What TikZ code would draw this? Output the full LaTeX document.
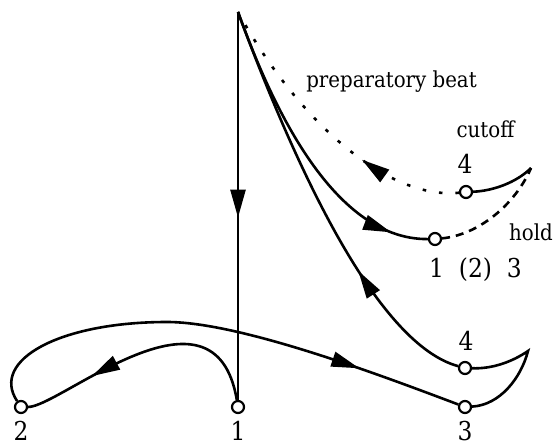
\documentclass[tikz,border=0pt]{standalone}
\usepackage{fontspec}
\setmainfont{DejaVu Serif Condensed}
\usetikzlibrary{arrows.meta, decorations.markings}

\begin{document}
\begin{tikzpicture}[
    x=1pt, y=-1pt,
    beat/.style={
        draw,
        circle,
        fill=white,
        line width=2.2pt,
        minimum size=12pt,
        inner sep=0pt
    },
    stroke/.style={
        line width=2.6pt
    },
    midarrow/.style={
        postaction={decorate},
        decoration={markings,
            mark=at position #1 with {\arrow{Triangle[length=28pt, width=15pt]}}}
    },
    hold/.style={
        stroke,
        dash pattern=on 8pt off 6pt
    },
    prep/.style={
        stroke,
        dash pattern=on 3.5pt off 13pt
    },
    numlabel/.style={
        anchor=base,
        inner sep=1pt,
        font=\fontsize{26}{30}\selectfont
    },
    textlabel/.style={
        anchor=base,
        inner sep=1pt,
        font=\fontsize{22}{26}\selectfont
    }
]
\useasboundingbox (0,0) rectangle (557,446);

% Points of the pattern
\coordinate (top) at (238, 12);
\coordinate (looptop) at (167, 322);
\coordinate (cusplow) at (528, 351);
\coordinate (cusphigh) at (531, 168);

\node[beat] (b1) at (238, 407) {};
\node[beat] (b2) at (21, 407) {};
\node[beat] (b3) at (465, 407) {};
\node[beat] (b4) at (465, 368) {};
\node[beat] (m1) at (435, 239) {};
\node[beat] (m4) at (466, 192) {};

% Main beat pattern
\draw[stroke, midarrow=0.53] (top) -- (b1);
\draw[stroke, midarrow=0.72] (b1) .. controls (215, 270) and (60, 407) .. (b2);
\draw[stroke, midarrow=0.79] (b2) .. controls (-10, 360) and (60, 322) .. (looptop)
    .. controls (240, 322) and (380, 375) .. (b3);
\draw[stroke] (b3) .. controls (500, 405) and (521, 378) .. (cusplow)
    .. controls (512, 362) and (492, 369) .. (b4);
\draw[stroke, midarrow=0.33] (b4) .. controls (380, 345) and (300, 180) .. (top);

% Hold and cutoff
\draw[stroke, midarrow=0.88] (top) .. controls (268, 95) and (330, 240) .. (m1);
\draw[hold] (m1) .. controls (478, 235) and (515, 205) .. (cusphigh);
\draw[stroke] (m4) .. controls (492, 191) and (516, 183) .. (cusphigh);
\draw[prep, midarrow=0.35] (m4) .. controls (390, 200) and (300, 125) .. (top);

% Labels
\node[numlabel] (lbl2) at (21, 440) {2};
\node[numlabel] (lbl1) at (238, 440) {1};
\node[numlabel] (lbl3) at (465, 440) {3};
\node[numlabel] (lbl4) at (466, 350.7) {4};
\node[numlabel] (lblhold) at (475.5, 277.7) {1~~(2)~~3};
\node[numlabel] (lblcut) at (465, 173.3) {4};
\node[textlabel] (holdtext) at (531, 241) {hold};
\node[textlabel] (cutofftext) at (485.5, 137.3) {cutoff};
\node[textlabel] (preptext) at (391.5, 87.7) {preparatory beat};

\end{tikzpicture}
\end{document}
